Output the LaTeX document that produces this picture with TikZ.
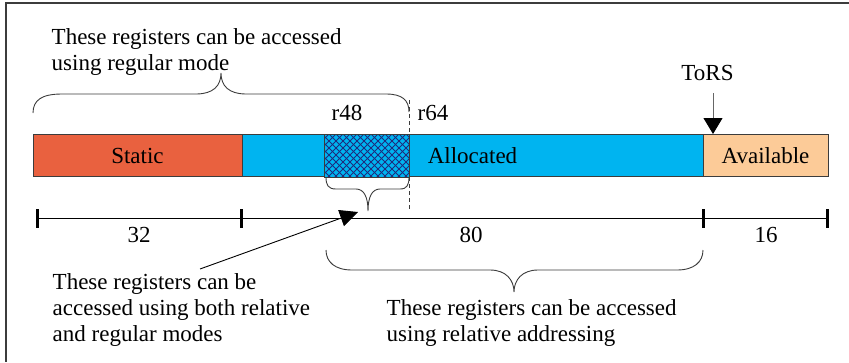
\documentclass[tikz,border=0pt]{standalone}
\usepackage{fontspec}
\setmainfont{Liberation Serif}
\usetikzlibrary{arrows.meta,calc}

\definecolor{staticc}{HTML}{E9613F}
\definecolor{allocc}{HTML}{00B4F0}
\definecolor{availc}{HTML}{FCCB98}
\definecolor{hatchc}{HTML}{1E2C7E}
\definecolor{edgec}{HTML}{3C3C3C}

\tikzset{
  txt/.style={inner sep=0pt, font=\fontsize{23}{26}\selectfont, text=black},
  para/.style={txt, align=left, anchor=north west},
  seg/.style={txt, draw=edgec, line width=0.9pt, minimum height=42pt},
  bracepath/.style={draw=edgec, line width=0.9pt},
  tick/.style={line width=3pt, black},
  hatchline/.style={hatchc, line width=0.8pt},
  frameline/.style={edgec, line width=1.5pt},
}

\begin{document}
\begin{tikzpicture}[x=1pt, y=-1pt]
\useasboundingbox (0,0) rectangle (849,362);

% partial frame
\draw[frameline] (849,3) -- (6,3) -- (6,362);

% register file bar
\node[seg, fill=staticc, minimum width=209pt] (static) at (137.5,155.5) {Static};
\node[seg, fill=allocc, minimum width=461pt] (alloc) at (472.5,155.5) {Allocated};
\node[seg, fill=availc, minimum width=125pt] (avail) at (765.5,155.5) {Available};

% cross-hatched window r48..r64
\node[seg, draw=none, fill=allocc, minimum width=84pt] (hatch) at (367,155.5) {};
\begin{scope}
  \clip (hatch.south west) rectangle (hatch.north east);
  \foreach \k in {-8,...,20} {
    \draw[hatchline] (325+7*\k,180) -- ++(50,-50);
    \draw[hatchline] (325+7*\k,130) -- ++(50,50);
  }
\end{scope}
\draw[edgec, line width=0.9pt] (hatch.south west) rectangle (hatch.north east);

% register labels and window boundary
\node[txt, anchor=base] (r48) at (347,120) {r48};
\node[txt, anchor=base] (r64) at (433,120) {r64};
\draw[edgec, line width=0.8pt, dash pattern=on 4pt off 3pt] (409,100) -- (409,210);

% top-of-register-stack pointer
\node[txt, anchor=base] (tors) at (707.5,80) {ToRS};
\coordinate (torsTail) at (713,93);
\coordinate (torsTip) at (713,134);
\draw[gray!80!black, line width=0.9pt, -{Triangle[length=16pt, width=19pt, color=black]}] (torsTail) -- (torsTip);

% size scale
\coordinate (m0) at (37,218);
\coordinate (m1) at (241,218);
\coordinate (m2) at (703,218);
\coordinate (m3) at (827,218);
\draw[black, line width=0.9pt] (m0) -- (m3);
\foreach \m in {m0,m1,m2,m3} {
  \draw[tick] ($(\m)+(0,-9)$) -- ($(\m)+(0,10)$);
}
\node[txt, anchor=base] (n32) at (139,242) {32};
\node[txt, anchor=base] (n80) at (471,242) {80};
\node[txt, anchor=base] (n16) at (766,242) {16};

% braces
\draw[bracepath] (33,113) .. controls (33,100) and (42,94) .. (62,94)
  -- (196,94) .. controls (213,94) and (221,86) .. (221,73)
  .. controls (221,86) and (229,94) .. (246,94)
  -- (386,94) .. controls (402,94) and (409,100) .. (409,112);

\draw[bracepath] (326,177) .. controls (326,185) and (328,189) .. (336,189)
  -- (356,189) .. controls (364,189) and (368,197) .. (368,211)
  .. controls (368,197) and (372,189) .. (380,189)
  -- (400,189) .. controls (407,189) and (409,185) .. (409,177);

\draw[bracepath] (326,250) .. controls (326,262) and (335,270) .. (352,270)
  -- (490,270) .. controls (506,270) and (514,280) .. (514,292)
  .. controls (514,280) and (522,270) .. (538,270)
  -- (677,270) .. controls (694,270) and (703,262) .. (703,250);

% annotations
\node[para] (regular) at (51.5,28.6) {These registers can be accessed\\using regular mode};
\node[para] (both) at (52.5,273) {These registers can be\\accessed using both relative\\and regular modes};
\node[para] (relative) at (386.5,299.3) {These registers can be accessed\\using relative addressing};

\coordinate (bothTail) at (200,269);
\coordinate (bothTip) at (358,212);
\draw[black, line width=0.9pt, -{Triangle[length=18pt, width=17pt]}] (bothTail) -- (bothTip);
\end{tikzpicture}
\end{document}
